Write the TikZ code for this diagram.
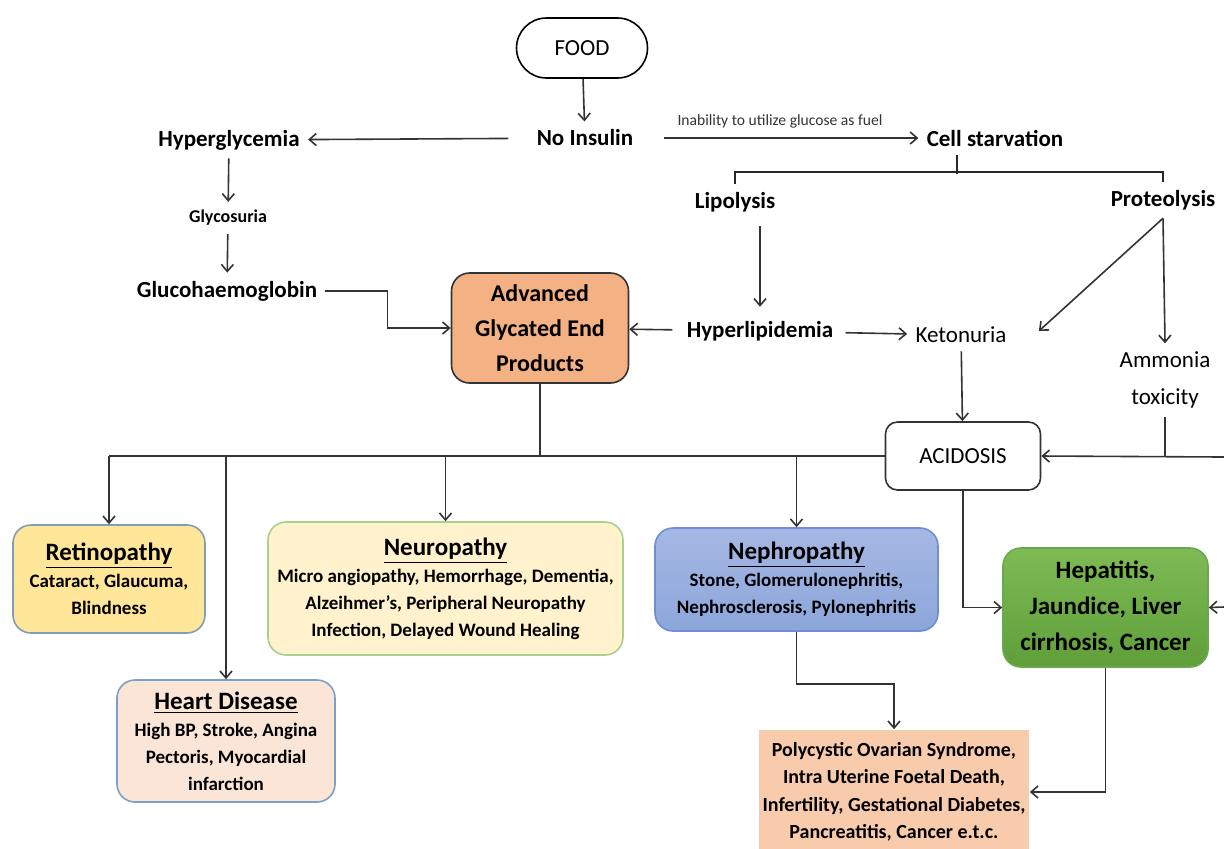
\documentclass[tikz,border=0pt]{standalone}
\usepackage{fontspec}
\setmainfont{Carlito}
\usepackage{xcolor}
\usepackage{tikz}
\usetikzlibrary{arrows.meta,positioning}
\tikzset{>={Straight Barb[length=3.5pt,width=6pt]}}

\definecolor{agefill}{HTML}{F4B183}
\definecolor{retfill}{HTML}{FFE699}
\definecolor{retdraw}{HTML}{7F9DB9}
\definecolor{neurofill}{HTML}{FFF2CC}
\definecolor{neurodraw}{HTML}{A9D18E}
\definecolor{heartfill}{HTML}{FBE5D6}
\definecolor{heartdraw}{HTML}{7DA0C8}
\definecolor{nephtop}{HTML}{A6B8E4}
\definecolor{nephbot}{HTML}{8CA6DA}
\definecolor{nephdraw}{HTML}{6F8FD0}
\definecolor{heptop}{HTML}{7EBB55}
\definecolor{hepbot}{HTML}{5F9E39}
\definecolor{hepdraw}{HTML}{6AA84F}
\definecolor{pcosfill}{HTML}{F8CBAD}

\newcommand{\distitle}[1]{{\fontsize{12.5}{15}\selectfont\underline{#1}}}

\begin{document}
\begin{tikzpicture}[x=0.5pt,y=-0.5pt,
                    line/.style={line width=0.8pt, black!80},
                    arr/.style={line, ->},
                    bracket/.style={line width=1.1pt, black!85},
                    head/.style={font=\bfseries\fontsize{11.5}{14}\selectfont, inner sep=4pt},
                    txt/.style={font=\fontsize{11.5}{18.5}\selectfont, inner sep=4pt, align=center},
                    disbox/.style={draw, line width=0.8pt, rounded corners=9pt, align=center,
                                   inner sep=0pt, font=\bfseries\fontsize{9.5}{13.5}\selectfont},
                   ]

\useasboundingbox (0,0) rectangle (1224,848);

\node[draw, line width=0.8pt, rounded corners=15pt, minimum width=65.5pt, minimum height=30pt, txt] (food) at (582,48) {FOOD};

\node[head] (noins) at (585,138) {No Insulin};
\node[head] (hypergly) at (229,140) {Hyperglycemia};
\node[head] (cell) at (995,138) {Cell starvation};
\node[head, font=\bfseries\fontsize{9}{11}\selectfont] (glycos) at (228,218) {Glycosuria};
\node[head] (glucohb) at (227,291) {Glucohaemoglobin};
\node[head] (lipo) at (735,202) {Lipolysis};
\node[head] (proteo) at (1163,200) {Proteolysis};
\node[head] (hyperlip) at (760,331) {Hyperlipidemia};
\node[txt] (keto) at (961,335) {Ketonuria};
\node[txt] (ammonia) at (1165,380) {Ammonia\\toxicity};

\node[disbox, fill=agefill, draw=black!80, minimum width=88.5pt, minimum height=55pt,
      font=\bfseries\fontsize{12}{17.5}\selectfont] (age) at (540,328) {Advanced\\Glycated End\\Products};
\node[disbox, fill=white, draw=black!80, rounded corners=6pt, minimum width=77.5pt, minimum height=34pt,
      font=\fontsize{11.5}{14}\selectfont] (acid) at (963,456) {ACIDOSIS};

\node[disbox, fill=retfill, draw=retdraw, minimum width=96pt, minimum height=54pt] (retina) at (109,579)
  {\distitle{Retinopathy}\\Cataract, Glaucuma,\\Blindness};
\node[disbox, fill=neurofill, draw=neurodraw, minimum width=177.5pt, minimum height=66.5pt] (neuro) at (445.5,588.5)
  {\distitle{Neuropathy}\\Micro angiopathy, Hemorrhage, Dementia,\\Alzeihmer's, Peripheral Neuropathy\\Infection, Delayed Wound Healing};
\node[disbox, fill=heartfill, draw=heartdraw, minimum width=109pt, minimum height=61pt] (heart) at (226,741)
  {\distitle{Heart Disease}\\High BP, Stroke, Angina\\Pectoris, Myocardial\\infarction};
\node[disbox, top color=nephtop, bottom color=nephbot, draw=nephdraw, minimum width=141.5pt, minimum height=51.5pt] (nephro) at (796.5,579.5)
  {\distitle{Nephropathy}\\Stone, Glomerulonephritis,\\Nephrosclerosis, Pylonephritis};
\node[disbox, top color=heptop, bottom color=hepbot, draw=hepdraw, minimum width=102.5pt, minimum height=59.5pt,
      font=\bfseries\fontsize{12.5}{18}\selectfont] (hepat) at (1105.5,607.5) {Hepatitis,\\Jaundice, Liver\\cirrhosis, Cancer};
\node[disbox, draw=none, fill=pcosfill, rounded corners=0pt, minimum width=135pt, minimum height=62pt,
      font=\bfseries\fontsize{10}{13.75}\selectfont] (pcos) at (894,792)
  {Polycystic Ovarian Syndrome,\\Intra Uterine Foetal Death,\\Infertility, Gestational Diabetes,\\Pancreatitis, Cancer e.t.c.};

\coordinate (split) at (957,174);
\coordinate (acidin) at (1224,457);
\coordinate (hepin) at (1224,607);

\draw[arr] (food) -- (noins);
\draw[arr, shorten <=10pt] (noins) -- (hypergly);
\draw[arr, shorten <=11pt] (noins) -- node[above, yshift=1pt, font=\fontsize{7.8}{9}\selectfont] {Inability to utilize glucose as fuel} (cell);
\draw[arr] (hypergly) -- (glycos);
\draw[arr] (glycos) -- (glucohb);
\draw[arr] (glucohb.east) -- ++(62,0) |- (age.west);
\draw[arr, shorten <=3pt] (hyperlip) -- (age);

\draw[bracket] (cell.south -| split) -- (split);
\draw[bracket] (lipo.north) -- ++(0,-12) -| (proteo.north);

\draw[arr, shorten <=3pt] (lipo.south -| hyperlip) -- ([yshift=3pt]hyperlip.north);
\draw[arr, shorten <=2pt] (hyperlip) -- (keto);
\draw[arr] (proteo.south) -- ([xshift=12pt,yshift=2pt]keto.east);
\draw[arr] (proteo.south) -- (ammonia.north);
\draw[arr] (keto) -- (acid);
\draw[line] (ammonia.south) -- (ammonia.south |- acid.east);
\draw[arr] (acidin) -- (acid.east);
\draw[arr] (hepin) -- (hepat.east);
\draw[arr] (acid.south) |- (hepat.west);
\draw[arr] (hepat.south) |- (pcos.east);
\draw[arr] (nephro.south) -- ++(0,52) -| (pcos.north);

\draw[line, line width=1.2pt] (age.south) -- (age.south |- acid.west);
\draw[line] (acid.west) -- (retina.north |- acid.west);
\draw[arr] (retina.north |- acid.west) -- (retina.north);
\draw[arr] (heart.north |- acid.west) -- (heart.north);
\draw[arr] (neuro.north |- acid.west) -- (neuro.north);
\draw[arr] (nephro.north |- acid.west) -- (nephro.north);

\end{tikzpicture}
\end{document}
